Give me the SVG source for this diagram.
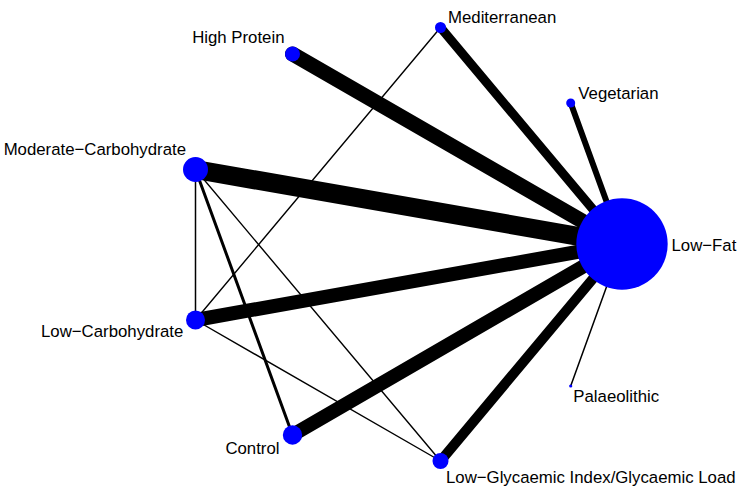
<svg xmlns="http://www.w3.org/2000/svg" width="746" height="501" viewBox="0 0 746 501">
<style>
.e{stroke:#000;fill:none;stroke-linecap:round}
.n{fill:#0000FF}
text{font-family:"Liberation Sans",Arial,sans-serif;font-size:16.8px;fill:#000}
</style>
<rect width="746" height="501" fill="#fff"/>
<g id="connectors">
<line class="e" x1="622" y1="244" x2="292.5" y2="54" stroke-width="15"/>
<line class="e" x1="622" y1="244" x2="440.5" y2="27.5" stroke-width="9"/>
<line class="e" x1="622" y1="244" x2="570.7" y2="103" stroke-width="6"/>
<line class="e" x1="622" y1="244" x2="195.5" y2="169.5" stroke-width="19"/>
<line class="e" x1="622" y1="244" x2="195.5" y2="320" stroke-width="14"/>
<line class="e" x1="622" y1="244" x2="292.5" y2="435" stroke-width="14"/>
<line class="e" x1="622" y1="244" x2="440.5" y2="461" stroke-width="10"/>
<line class="e" x1="622" y1="244" x2="570.7" y2="386" stroke-width="1.5"/>
<line class="e" x1="195.5" y1="169.5" x2="195.5" y2="320" stroke-width="1.5"/>
<line class="e" x1="195.5" y1="169.5" x2="292.5" y2="435" stroke-width="3"/>
<line class="e" x1="195.5" y1="169.5" x2="440.5" y2="461" stroke-width="1.4"/>
<line class="e" x1="195.5" y1="320" x2="440.5" y2="27.5" stroke-width="1.4"/>
<line class="e" x1="195.5" y1="320" x2="440.5" y2="461" stroke-width="1.4"/>
</g>
<g id="node-lowfat"><circle class="n" cx="622" cy="244" r="45.7"/><text x="671.5" y="250.5">Low−Fat</text></g>
<g id="node-highprotein"><circle class="n" cx="292.5" cy="54" r="7.5"/><text x="284.5" y="43.3" text-anchor="end">High Protein</text></g>
<g id="node-mediterranean"><circle class="n" cx="440.5" cy="27.5" r="5.5"/><text x="448" y="23">Mediterranean</text></g>
<g id="node-vegetarian"><circle class="n" cx="570.7" cy="103" r="4.5"/><text x="578.3" y="98.5">Vegetarian</text></g>
<g id="node-moderatecarb"><circle class="n" cx="195.5" cy="169.5" r="12.5"/><text x="186" y="155" text-anchor="end">Moderate−Carbohydrate</text></g>
<g id="node-lowcarb"><circle class="n" cx="195.5" cy="320" r="9.5"/><text x="183.3" y="336.7" text-anchor="end">Low−Carbohydrate</text></g>
<g id="node-control"><circle class="n" cx="292.5" cy="435" r="9.7"/><text x="279.5" y="454" text-anchor="end">Control</text></g>
<g id="node-lowgi"><circle class="n" cx="440.5" cy="461" r="8"/><text x="446" y="483.3">Low−Glycaemic Index/Glycaemic Load</text></g>
<g id="node-palaeolithic"><circle class="n" cx="570.7" cy="386" r="1.6"/><text x="573.3" y="401.7">Palaeolithic</text></g>
</svg>
